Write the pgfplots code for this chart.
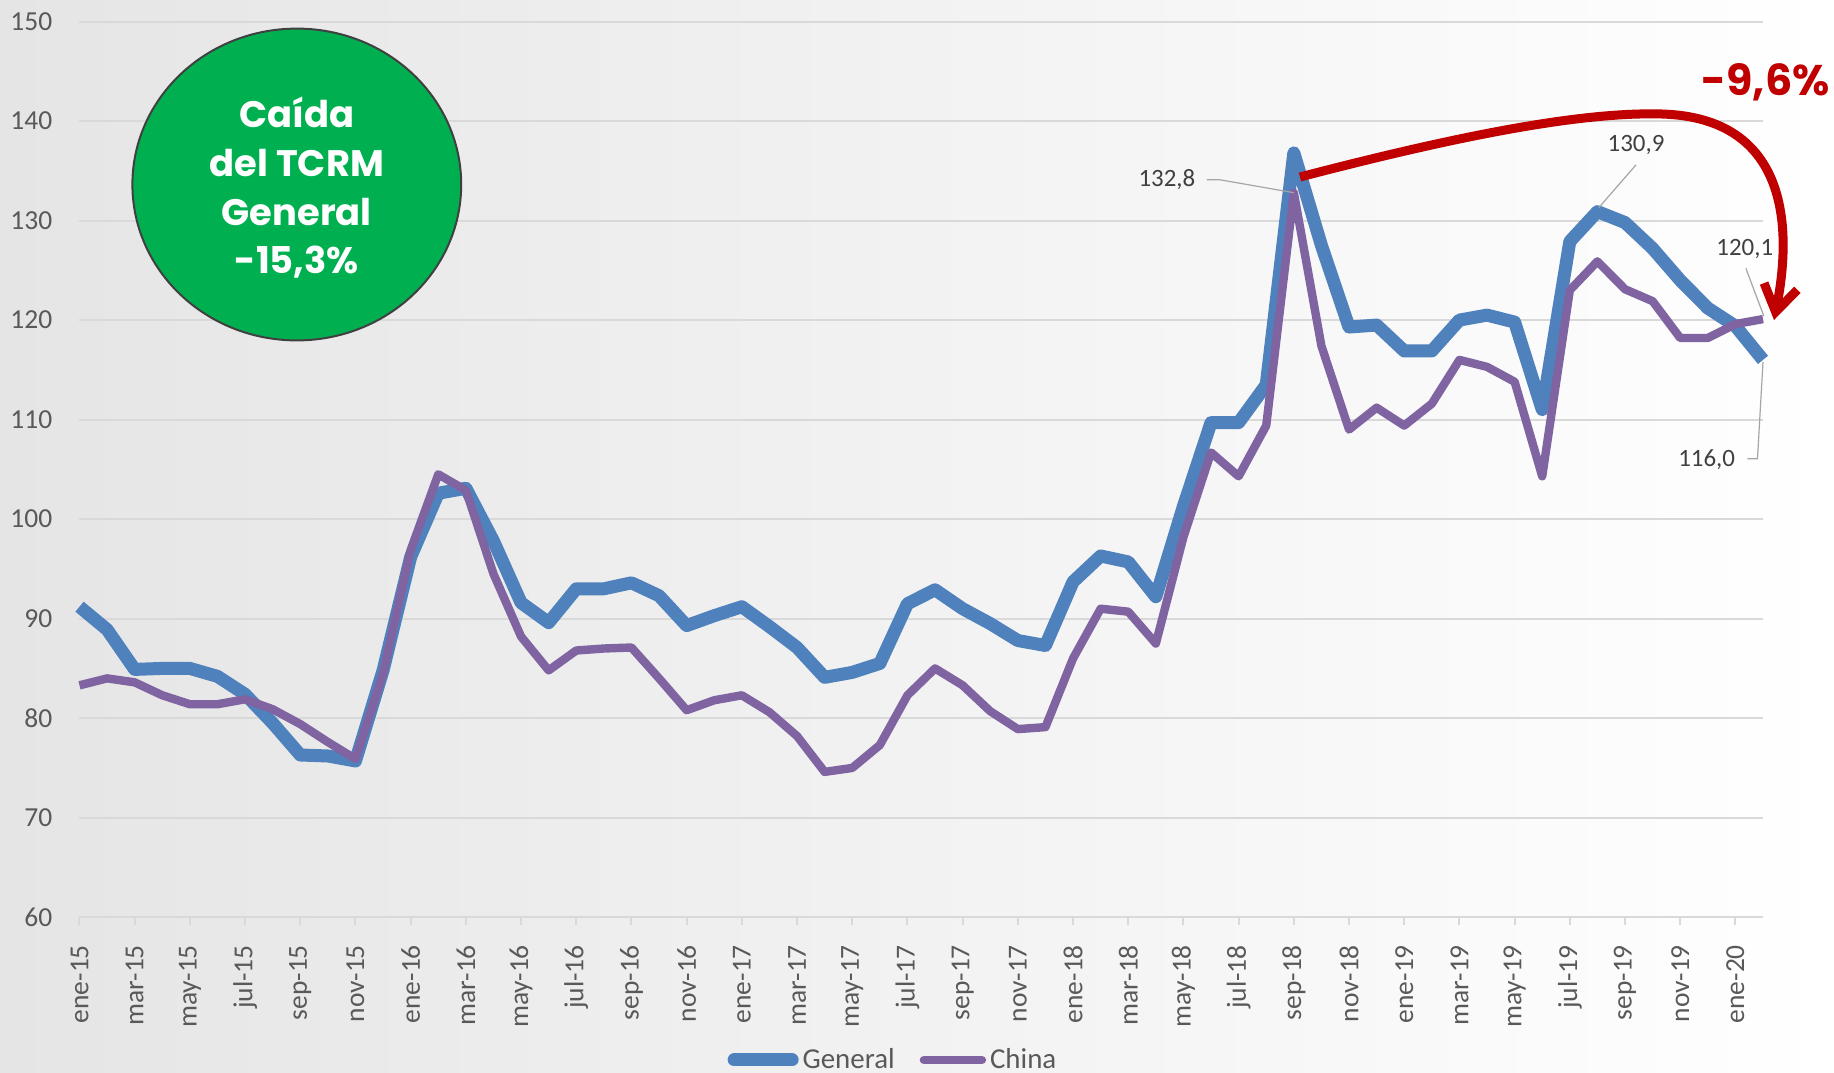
\documentclass[border=0pt]{standalone}
\usepackage{pgfplots}
\usepackage{pgfplotstable}
\pgfplotsset{compat=1.18}
\usepackage{fontspec}
\setmainfont{Carlito}
\newfontfamily\pop{Poppins}
\usetikzlibrary{arrows.meta}
\definecolor{genblue}{HTML}{4F81BD}
\definecolor{chpurple}{HTML}{8064A2}
\definecolor{darkred}{HTML}{C00000}
\definecolor{tgreen}{HTML}{00B050}
\definecolor{ticktxt}{HTML}{595959}
\definecolor{gridc}{HTML}{D9D9D9}
\definecolor{lbltxt}{HTML}{404040}
\definecolor{leadc}{HTML}{A6A6A6}
\definecolor{bgdark}{HTML}{E5E5E5}

\pgfplotstableread{
m g c
0 91.2 83.3
1 88.9 84.0
2 84.9 83.6
3 85.0 82.3
4 85.0 81.4
5 84.2 81.4
6 82.4 81.9
7 79.5 80.9
8 76.3 79.4
9 76.2 77.6
10 75.7 75.9
11 84.8 84.5
12 96.2 96.9
13 102.6 104.5
14 103.1 102.9
15 97.8 94.5
16 91.6 88.2
17 89.6 84.8
18 93.0 86.8
19 93.0 87.0
20 93.6 87.1
21 92.3 84.0
22 89.3 80.8
23 90.3 81.8
24 91.2 82.3
25 89.2 80.6
26 87.1 78.2
27 84.1 74.6
28 84.6 75.0
29 85.5 77.3
30 91.5 82.3
31 92.9 85.0
32 91.0 83.3
33 89.5 80.7
34 87.8 78.9
35 87.3 79.1
36 93.7 86.0
37 96.3 91.0
38 95.7 90.7
39 92.2 87.5
40 101.3 98.2
41 109.7 106.7
42 109.7 104.3
43 113.5 109.4
44 136.8 132.8
45 127.5 117.4
46 119.3 109.0
47 119.5 111.2
48 116.9 109.4
49 116.9 111.6
50 120.0 116.0
51 120.5 115.3
52 119.8 113.8
53 111.0 104.3
54 127.9 123.0
55 130.9 125.9
56 129.8 123.1
57 127.2 121.9
58 124.0 118.2
59 121.2 118.2
60 119.4 119.6
61 116.0 120.1
}\datatable

\begin{document}
\begin{tikzpicture}
\useasboundingbox (0,0) rectangle (917bp,-536.5bp);
\clip (0,0) rectangle (917bp,-536.5bp);
\shade[left color=bgdark, right color=white] (0,0) rectangle (917bp,-536.5bp);

\begin{axis}[
  at={(39.75bp,-458.6bp)}, anchor=south west,
  scale only axis, width=841.75bp, height=447.85bp,
  xmin=0, xmax=61, ymin=60, ymax=150,
  ytick={60,70,...,150},
  xtick={0,2,...,60},
  xticklabels={ene-15,mar-15,may-15,jul-15,sep-15,nov-15,ene-16,mar-16,may-16,jul-16,sep-16,nov-16,ene-17,mar-17,may-17,jul-17,sep-17,nov-17,ene-18,mar-18,may-18,jul-18,sep-18,nov-18,ene-19,mar-19,may-19,jul-19,sep-19,nov-19,ene-20},
  axis line style={draw=none},
  ymajorgrids, grid style={gridc, line width=1bp},
  xtick pos=bottom, ytick pos=left,
  xtick align=outside, major tick length=4bp,
  xtick style={gridc, line width=1bp},
  ytick style={draw=none},
  /pgf/number format/assume math mode=true,
  tick label style={font=\fontsize{13.8}{16}\selectfont, text=ticktxt},
  yticklabel style={anchor=east, inner sep=0pt, xshift=-13.4bp},
  xticklabel style={yshift=-9.75bp, rotate=90, anchor=east, inner sep=0pt},
  clip=false,
  legend style={at={(0.4838,-0.1594)}, anchor=center, draw=none, fill=none,
    legend columns=2, font=\fontsize{14.5}{16}\selectfont, text=ticktxt,
    /tikz/every even column/.append style={column sep=10.5bp}},
  legend image code/.code={\draw[#1, line cap=round, line join=round] (0bp,0bp) -- (29bp,0bp);},
]
\addplot[genblue, line width=6.5bp, line join=round] table[x=m, y=g] {\datatable};
\addlegendentry{General}
\addplot[chpurple, line width=4.2bp, line join=round] table[x=m, y=c] {\datatable};
\addlegendentry{China}

\begin{scope}[every node/.style={font=\fontsize{12.5}{14}\selectfont, text=lbltxt, inner sep=0pt}]
\node at (axis cs:39.4,134.1) {132,8};
\node at (axis cs:56.4,137.6) {130,9};
\node at (axis cs:60.34,127.1) {120,1};
\node at (axis cs:58.96,106.0) {116,0};
\end{scope}
\draw[leadc, line width=0.6bp] (axis cs:40.85,134.1) -- (axis cs:41.32,134.1) -- (axis cs:44,132.8);
\draw[leadc, line width=0.6bp] (axis cs:56.4,135.6) -- (axis cs:55.05,131.3);
\draw[leadc, line width=0.6bp] (axis cs:60.38,125.2) -- (axis cs:61.03,120.4);
\draw[leadc, line width=0.6bp] (axis cs:60.43,106.07) -- (axis cs:60.8,106.07) -- (axis cs:61,115.8);
\end{axis}

% green bubble
\draw[fill=tgreen, draw=black!75, line width=1bp] (148.4bp,-92.25bp) ellipse [x radius=82.2bp, y radius=77.95bp];
\begin{scope}[every node/.style={anchor=base, text=white, inner sep=0pt, font=\pop\bfseries\fontsize{18.5}{22}\selectfont}]
\node at (148.4bp,-63.75bp) {Caída};
\node at (148.4bp,-88.4bp) {del TCRM};
\node at (148.4bp,-112.5bp) {General};
\node at (148.4bp,-136.6bp) {-15,3\%};
\end{scope}

% red arrow
\draw[darkred, line width=4.5bp, -{Straight Barb[length=13bp, width=17bp]}]
  (650bp,-88.5bp) .. controls (740bp,-65bp) and (795bp,-56bp) .. (831bp,-57bp)
  .. controls (895bp,-59bp) and (896bp,-115bp) .. (887bp,-160bp);
\node[anchor=base east, inner sep=0pt, text=darkred, font=\pop\bfseries\fontsize{21.5}{24}\selectfont] at (915bp,-47.5bp) {-9,6\%};
\end{tikzpicture}
\end{document}
